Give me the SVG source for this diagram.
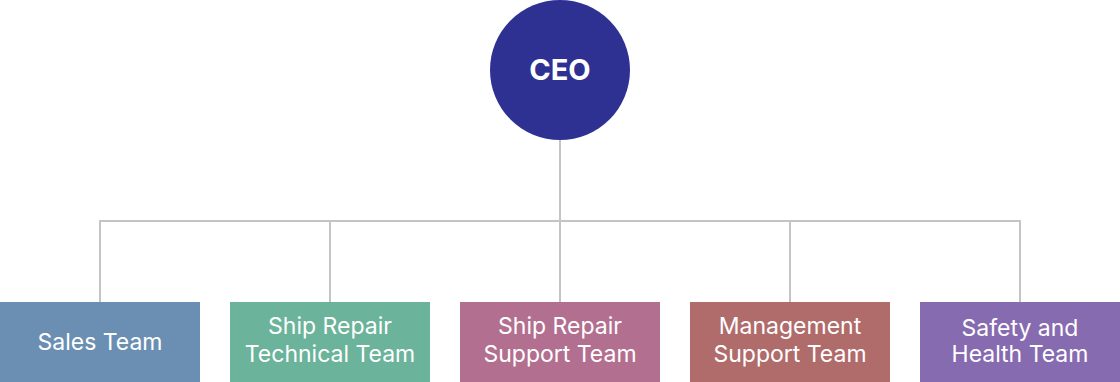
<svg xmlns="http://www.w3.org/2000/svg" width="1120" height="382" viewBox="0 0 1120 382">
<style>
.t{font-family:Inter,"Liberation Sans",sans-serif;font-size:23px;fill:#fff;text-anchor:middle}
.c{stroke:#c4c4c4;stroke-width:2;fill:none}
</style>
<rect width="1120" height="382" fill="#fff"/>
<g id="connectors">
<path class="c" d="M560 140V221M100 221H1020M100 220V302M330 220V302M560 220V302M790 220V302M1020 220V302"/>
</g>
<g id="ceo"><circle cx="560" cy="70" r="70" fill="#2e3192"/><text x="560" y="80" class="t" style="font-size:29px;font-weight:700">CEO</text></g>
<g id="sales"><rect x="0" y="302" width="200" height="80" fill="#6b8fb2"/><text x="100" y="350" class="t">Sales Team</text></g>
<g id="tech"><rect x="230" y="302" width="200" height="80" fill="#6bb39b"/><text x="330" y="334" class="t">Ship Repair</text><text x="330" y="362" class="t">Technical Team</text></g>
<g id="support"><rect x="460" y="302" width="200" height="80" fill="#b36f8f"/><text x="560" y="334" class="t">Ship Repair</text><text x="560" y="362" class="t">Support Team</text></g>
<g id="mgmt"><rect x="690" y="302" width="200" height="80" fill="#b06b6b"/><text x="790" y="334" class="t">Management</text><text x="790" y="362" class="t">Support Team</text></g>
<g id="safety"><rect x="920" y="302" width="200" height="80" fill="#876bb0"/><text x="1020" y="336" class="t">Safety and</text><text x="1020" y="362" class="t">Health Team</text></g>
</svg>
